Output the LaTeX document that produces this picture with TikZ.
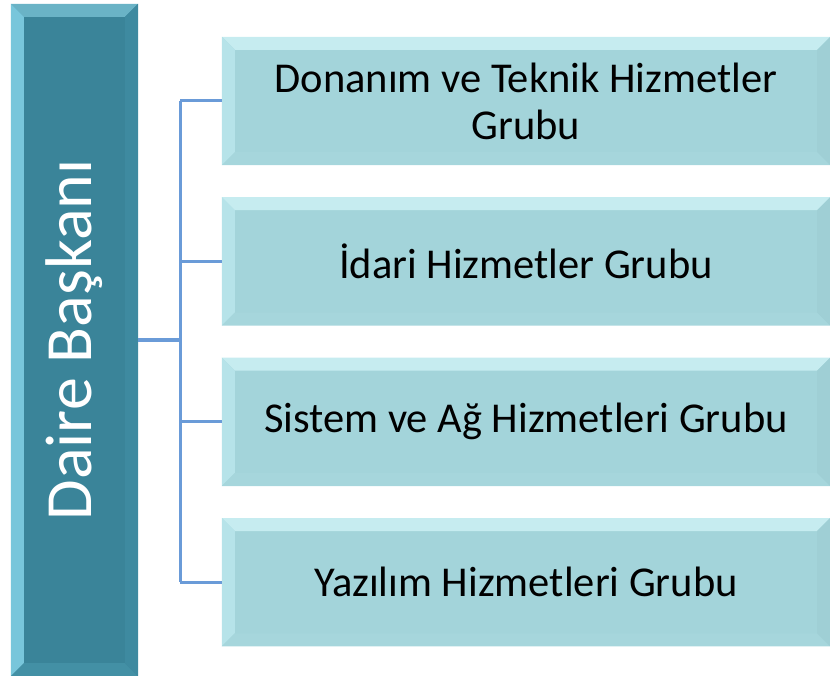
\documentclass[tikz,border=0pt]{standalone}
\usepackage{fontspec}
\setmainfont{Carlito}
\usetikzlibrary{positioning}
\definecolor{baskanfill}{HTML}{3A8499}
\definecolor{baskantop}{HTML}{6AB3C6}
\definecolor{baskanleft}{HTML}{78C6DB}
\definecolor{baskanbot}{HTML}{4390A5}
\definecolor{baskanright}{HTML}{3E8AA0}
\definecolor{grupfill}{HTML}{A3D4DA}
\definecolor{gruptop}{HTML}{C6ECF0}
\definecolor{grupleft}{HTML}{B6E3E9}
\definecolor{grupbot}{HTML}{A6D6DC}
\definecolor{grupright}{HTML}{9FCFD5}
\definecolor{hatcolor}{HTML}{6A9BD8}
\tikzset{
  baskanbox/.style={fill=baskanfill, minimum width=127pt, minimum height=672pt, inner sep=0pt},
  grupbox/.style={fill=grupfill, minimum width=608pt, minimum height=128pt, inner sep=0pt,
    align=center, font=\fontsize{42.5}{47}\selectfont},
  hat/.style={draw=hatcolor, line width=3pt}
}
\begin{document}
\begin{tikzpicture}[x=1pt, y=-1pt, line join=round]
                \useasboundingbox (0,0) rectangle (830,676);
                \node[baskanbox] (baskan) at (74.5,340) {};
                \node[grupbox] (donanim) at (526,101) {Donanım ve Teknik Hizmetler\\Grubu};
                \node[grupbox, below=32pt of donanim] (idari) {İdari Hizmetler Grubu};
                \node[grupbox, below=32pt of idari] (sistem) {Sistem ve Ağ Hizmetleri Grubu};
                \node[grupbox, below=32pt of sistem] (yazilim) {Yazılım Hizmetleri Grubu};
                \foreach \n/\t/\l/\d/\r in {baskan/baskantop/baskanleft/baskanbot/baskanright,
                    donanim/gruptop/grupleft/grupbot/grupright, idari/gruptop/grupleft/grupbot/grupright,
                    sistem/gruptop/grupleft/grupbot/grupright, yazilim/gruptop/grupleft/grupbot/grupright} {
                    \fill[\t] (\n.north west) -- (\n.north east) -- ([shift={(-13,13)}]\n.north east) -- ([shift={(13,13)}]\n.north west) -- cycle;
                    \fill[\l] (\n.north west) -- ([shift={(13,13)}]\n.north west) -- ([shift={(13,-13)}]\n.south west) -- (\n.south west) -- cycle;
                    \fill[\d] (\n.south west) -- ([shift={(13,-13)}]\n.south west) -- ([shift={(-13,-13)}]\n.south east) -- (\n.south east) -- cycle;
                    \fill[\r] (\n.north east) -- (\n.south east) -- ([shift={(-13,-13)}]\n.south east) -- ([shift={(-13,13)}]\n.north east) -- cycle;
                }
                \node[rotate=90, text=white, font=\fontsize{66}{78}\selectfont] (baskanyazi) at (baskan.center) {Daire Başkanı};
                \coordinate (kol) at (180,340);
                \draw[hat] (baskan.east |- kol) -- (kol);
                \draw[hat] (kol |- donanim.west) -- (kol |- yazilim.west);
                \foreach \n in {donanim, idari, sistem, yazilim}
                    \draw[hat] (kol |- \n.west) -- (\n.west);
            \end{tikzpicture}
\end{document}
